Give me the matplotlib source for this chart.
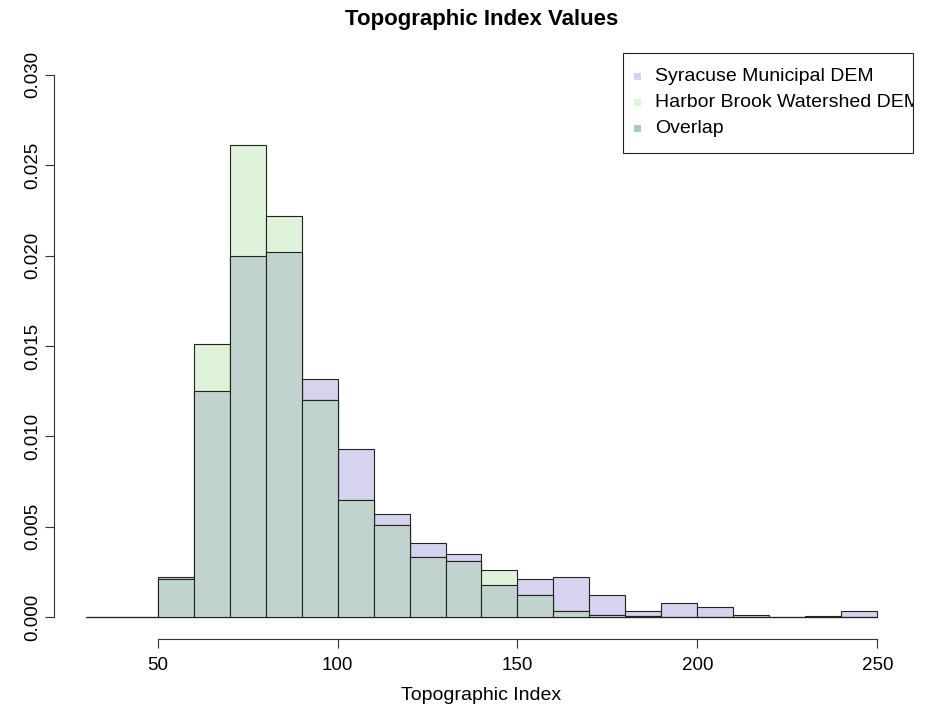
import matplotlib.pyplot as plt
import numpy as np
from matplotlib.patches import Rectangle

# Histogram breaks (Topographic Index), bins of width 10
BREAKS = np.arange(30, 260, 10)

# Density per bin
SYRACUSE = [0, 0, 0.0022, 0.0125, 0.0200, 0.0202, 0.0132, 0.0093, 0.0057, 0.0041,
            0.0035, 0.0018, 0.0021, 0.0022, 0.0012, 0.00035, 0.00077, 0.00054,
            0.00013, 0, 0.00007, 0.00031]
HARBOR = [0, 0, 0.0021, 0.0151, 0.0261, 0.0222, 0.0120, 0.0065, 0.0051, 0.0033,
          0.0031, 0.0026, 0.0012, 0.00035, 0.0001, 0.00007, 0, 0, 0, 0, 0, 0]

LABELS = ["Syracuse Municipal DEM", "Harbor Brook Watershed DEM", "Overlap"]
X_TICKS = [50, 100, 150, 200, 250]
Y_TICKS = [0.000, 0.005, 0.010, 0.015, 0.020, 0.025, 0.030]

SYR_COLOR = "#d5d3ee"
HAR_COLOR = "#dff3da"
OVL_COLOR = "#c1d3cd"
LEG_OVL = "#a9c8c1"


def main():
    plt.rcParams["font.family"] = ["Liberation Sans", "DejaVu Sans"]
    fig = plt.figure(figsize=(9.28, 7.10), dpi=100)
    ax = fig.add_axes([0.0582, 0.1004, 0.9213, 0.8246])

    lefts = BREAKS[:-1]
    width = np.diff(BREAKS)
    syr = np.array(SYRACUSE)
    har = np.array(HARBOR)
    overlap = np.minimum(syr, har)

    edge = dict(edgecolor="#222222", linewidth=0.8, align="edge")
    ax.bar(lefts, syr, width=width, color=SYR_COLOR, **edge)
    ax.bar(lefts, har, width=width, color=HAR_COLOR, **edge)
    ax.bar(lefts, overlap, width=width, color=OVL_COLOR, **edge)

    ax.set_xlim(21.2, 258.8)
    ax.set_ylim(-0.0012, 0.0312)

    for s in ["top", "right"]:
        ax.spines[s].set_visible(False)
    ax.spines["left"].set_bounds(0, 0.030)
    ax.spines["bottom"].set_bounds(50, 250)
    for s in ["left", "bottom"]:
        ax.spines[s].set_linewidth(0.8)
        ax.spines[s].set_color("#333333")

    ax.set_xticks(X_TICKS)
    ax.set_xticklabels([str(t) for t in X_TICKS], fontsize=13.5)
    ax.set_yticks(Y_TICKS)
    ax.set_yticklabels(["%.3f" % t for t in Y_TICKS], fontsize=13.5,
                       rotation=90, va="center")
    ax.tick_params(axis="x", length=6.5, width=0.8, pad=7, color="#333333")
    ax.tick_params(axis="y", length=6.5, width=0.8, pad=3, color="#333333")

    ax.set_xlabel("Topographic Index", fontsize=14, labelpad=9)
    ax.set_title("Topographic Index Values", fontsize=16, fontweight="bold",
                 pad=20)

    # Legend drawn by hand so the long label is clipped by the box
    box = Rectangle((0.6655, 0.8297), 0.339, 0.1703, transform=ax.transAxes,
                    facecolor="white", edgecolor="#222222", linewidth=0.8,
                    clip_on=False, zorder=5)
    ax.add_patch(box)
    for i, (lab, col) in enumerate(zip(LABELS, [SYR_COLOR, HAR_COLOR, LEG_OVL])):
        y = 0.9595 - i * 0.0437
        ax.add_patch(Rectangle((0.678, y - 0.006), 0.008, 0.012,
                               transform=ax.transAxes, facecolor=col,
                               edgecolor="none", clip_on=False, zorder=6))
        t = ax.text(0.703, y, lab, transform=ax.transAxes, fontsize=14,
                    va="center", ha="left", zorder=6, clip_on=True)
        t.set_clip_path(box)

    fig.savefig("out.png", dpi=100)


if __name__ == "__main__":
    main()
